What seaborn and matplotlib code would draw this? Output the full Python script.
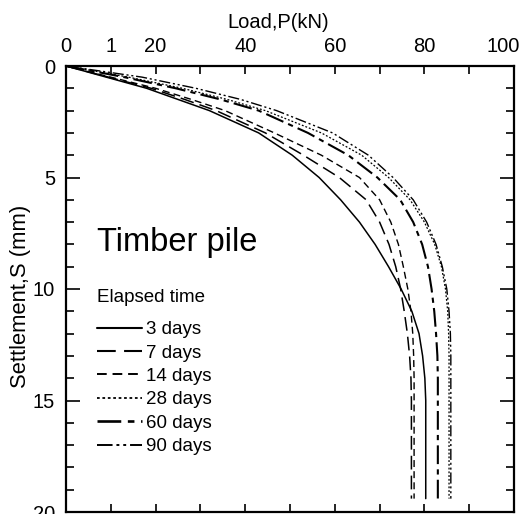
import numpy as np
import pandas as pd
import matplotlib
matplotlib.use("Agg")
import matplotlib.pyplot as plt
import matplotlib.transforms as mtransforms
from matplotlib.lines import Line2D
import seaborn as sns

# Settlement grid (mm) shared by all curves
settlement = [0, 0.5, 1, 1.5, 2, 3, 4, 5, 6, 7, 8, 9, 10, 11, 12, 13, 14, 15, 19.4]

# Load (kN) for each elapsed time
load_3d  = [0, 9.0, 18.0, 25.0, 32.0, 43.0, 50.5, 56.5, 61.3, 65.5, 69.0, 72.0, 74.8, 77.2, 78.8, 79.6, 80.1, 80.3, 80.3]
load_7d  = [0, 9.5, 19.0, 26.5, 33.5, 44.5, 53.0, 61.0, 67.0, 70.0, 72.1, 73.6, 74.7, 75.5, 76.2, 76.7, 77.0, 77.1, 77.1]
load_14d = [0, 10.0, 20.0, 28.0, 35.5, 46.5, 57.0, 65.5, 70.0, 72.5, 74.2, 75.3, 76.3, 77.0, 77.4, 77.6, 77.7, 77.7, 77.7]
load_28d = [0, 14.0, 26.0, 36.0, 44.5, 57.0, 66.0, 72.0, 76.8, 80.0, 82.3, 83.8, 84.7, 85.2, 85.4, 85.5, 85.5, 85.5, 85.5]
load_60d = [0, 13.0, 24.5, 34.5, 43.0, 54.0, 63.0, 69.5, 74.6, 77.5, 79.5, 80.8, 81.6, 82.2, 82.6, 82.9, 83.0, 83.0, 83.0]
load_90d = [0, 17.0, 29.0, 39.0, 47.0, 59.5, 67.5, 73.0, 77.5, 80.5, 82.6, 84.0, 85.0, 85.5, 85.8, 85.9, 85.9, 85.9, 85.9]

series_labels = ["3 days", "7 days", "14 days", "28 days", "60 days", "90 days"]

x_ticks = [0, 10, 20, 30, 40, 50, 60, 70, 80, 90, 100]
x_ticklabels = ["0", "1", "20", "", "40", "", "60", "", "80", "", "100"]
y_ticks = [0, 5, 10, 15, 20]

loads = [load_3d, load_7d, load_14d, load_28d, load_60d, load_90d]
frames = []
for lab, ld in zip(series_labels, loads):
    frames.append(pd.DataFrame({"Load": ld, "Settlement": settlement, "Elapsed": lab}))
df = pd.concat(frames, ignore_index=True)

styles = {
    "3 days":  dict(dashes=(None, None), lw=1.1),
    "7 days":  dict(dashes=(9, 4), lw=1.1),
    "14 days": dict(dashes=(5, 3), lw=1.0),
    "28 days": dict(dashes=(1.5, 1.5), lw=0.9),
    "60 days": dict(dashes=(9, 2.5, 2.5, 2.5), lw=1.5),
    "90 days": dict(dashes=(8, 2, 1.5, 2, 1.5, 2), lw=1.0),
}

sns.set_theme(style="white")
plt.rcParams["font.family"] = ["Liberation Sans", "DejaVu Sans"]
plt.rcParams["text.color"] = "black"
plt.rcParams["axes.labelcolor"] = "black"
plt.rcParams["xtick.color"] = "black"
plt.rcParams["ytick.color"] = "black"

fig = plt.figure(figsize=(5.29, 5.14), dpi=100)
ax = fig.add_axes([66 / 529, (514 - 512) / 514, 448 / 529, 446 / 514])

for lab in series_labels:
    sub = df[df["Elapsed"] == lab]
    st = styles[lab]
    sns.lineplot(data=sub, x="Load", y="Settlement", sort=False, estimator=None,
                 ax=ax, legend=False, color="black", linewidth=st["lw"])
    l = ax.lines[-1]
    if st["dashes"][0] is not None:
        l.set_dashes(st["dashes"])

ax.set_xlim(0, 100)
ax.set_ylim(20, 0)
ax.xaxis.tick_top()
ax.xaxis.set_label_position("top")
ax.set_xticks(x_ticks)
ax.set_xticklabels(x_ticklabels)
ax.set_yticks(y_ticks)
ax.set_yticks(np.arange(0, 21, 1), minor=True)
ax.set_xlabel("Load,P(kN)", fontsize=14.5, color="black")
ax.xaxis.set_label_coords((278 - 66) / 448, 1 + (66 - 22) / 446)
ax.xaxis.label.set_va("center")
ax.set_ylabel("Settlement,S (mm)", fontsize=15.8, color="black")
ax.yaxis.set_label_coords((21 - 66) / 448, 1 - (296 - 66) / 446)
ax.yaxis.label.set_va("center")

ax.tick_params(axis="x", which="major", direction="in", length=6, width=1.2,
               top=True, bottom=True, labelsize=14.5, pad=7, colors="black")
ax.tick_params(axis="y", which="major", direction="in", length=10, width=1.2,
               left=True, right=True, labelsize=14.5, pad=8, colors="black")
ax.tick_params(axis="y", which="minor", direction="in", length=6, width=1.2,
               left=True, right=True, colors="black")
for t in ax.get_xticklabels():
    if t.get_text() == "100":
        t.set_ha("right")
        t.set_transform(t.get_transform() +
                        mtransforms.ScaledTranslation(6 / 100, 0, fig.dpi_scale_trans))
for sp in ax.spines.values():
    sp.set_color("black")
    sp.set_linewidth(1.6)

ax.text(31 / 448, 1 - (242 - 66) / 446, "Timber pile", transform=ax.transAxes,
        fontsize=23.5, va="center", ha="left", color="black")
ax.text(31 / 448, 1 - (297 - 66) / 446, "Elapsed time", transform=ax.transAxes,
        fontsize=13.5, va="center", ha="left", color="black")

handles = []
for lab in series_labels:
    st = styles[lab]
    h = Line2D([0], [0], color="black", linewidth=st["lw"] + 0.4)
    if st["dashes"][0] is not None:
        h.set_dashes(st["dashes"])
    handles.append(h)
leg = ax.legend(handles, series_labels, loc="upper left",
                bbox_to_anchor=(31 / 448, 1 - (321 - 66) / 446),
                frameon=False, fontsize=13.5, handlelength=2.4,
                handletextpad=0.2, labelspacing=0.335, borderpad=0,
                borderaxespad=0, labelcolor="black")

fig.savefig("out.png", dpi=100, facecolor="white")
